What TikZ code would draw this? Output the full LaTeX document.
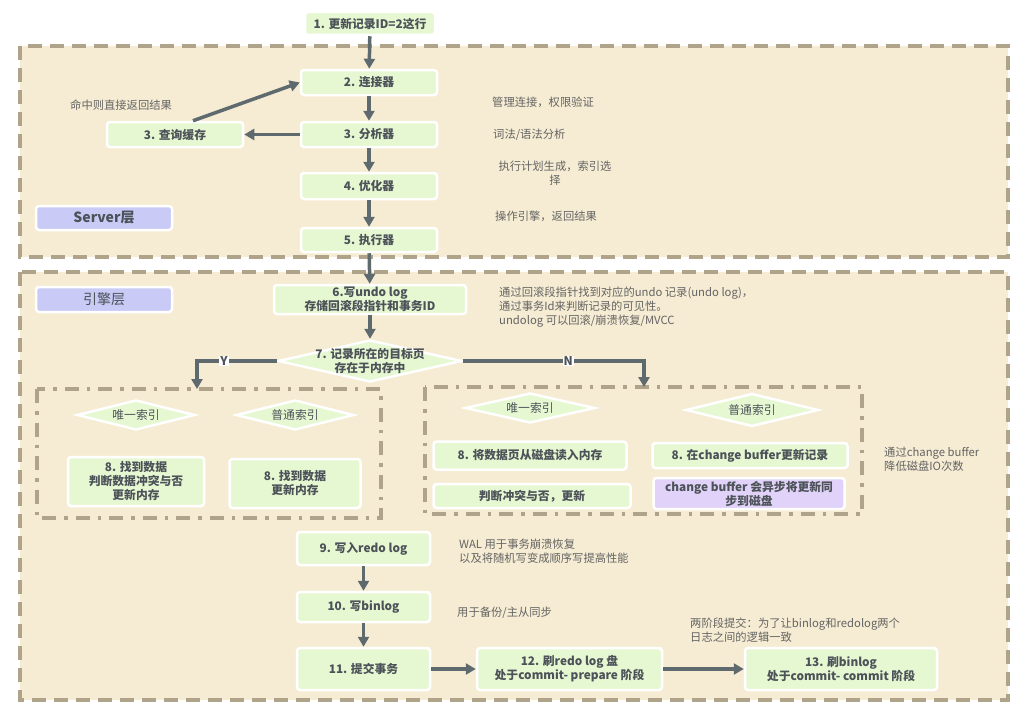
\documentclass[tikz,border=0pt]{standalone}
\usepackage{fontspec}
\setmainfont{Noto Sans CJK SC}
\usetikzlibrary{arrows.meta, shapes.geometric}
\definecolor{layerfill}{HTML}{F6ECD3}
\definecolor{layerline}{HTML}{AFA389}
\definecolor{boxgreen}{HTML}{E6F8D2}
\definecolor{boxpurple}{HTML}{E0D2F8}
\definecolor{tagblue}{HTML}{C9CAF5}
\definecolor{boxtext}{HTML}{4C5258}
\definecolor{notegray}{HTML}{646464}
\definecolor{arrowgray}{HTML}{5E6A6E}
\tikzset{
  layer/.style={
    draw=layerline,
    fill=layerfill,
    line width=4pt,
    dash pattern=on 14pt off 8pt
  },
  group/.style={
    draw=layerline,
    line width=3.5pt,
    dash pattern=on 14pt off 8pt on 3.5pt off 8pt
  },
  stepbox/.style={
    rectangle,
    rounded corners=3pt,
    draw=white,
    line width=2.5pt,
    fill=boxgreen,
    text=boxtext,
    font=\fontsize{11.8}{14}\selectfont\bfseries,
    align=center,
    inner sep=1pt
  },
  asyncbox/.style={
    stepbox,
    fill=boxpurple
  },
  tag/.style={
    stepbox,
    fill=tagblue,
    font=\fontsize{14}{16}\selectfont\bfseries
  },
  decision text/.style={
    text=boxtext,
    font=\fontsize{11.8}{14}\selectfont\bfseries,
    align=center,
    inner sep=0pt
  },
  index text/.style={
    decision text,
    font=\fontsize{11.8}{14}\selectfont
  },
  decision/.style={
    diamond,
    draw=white,
    line width=2.5pt,
    fill=boxgreen,
    inner sep=0pt,
    label={[decision text]center:#1}
  },
  index/.style={
    diamond,
    draw=white,
    line width=2.5pt,
    fill=boxgreen,
    inner sep=0pt,
    label={[index text]center:#1}
  },
  note/.style={
    text=notegray,
    font=\fontsize{11.3}{14}\selectfont,
    align=left,
    anchor=west,
    inner sep=0pt
  },
  flow/.style={
    -{Triangle[length=10pt,width=11pt]},
    line width=3.5pt,
    draw=arrowgray
  },
  branch/.style={
    fill=white,
    text=boxtext,
    font=\fontsize{12}{13}\selectfont\bfseries,
    inner sep=1pt
  }
}
\begin{document}
\begin{tikzpicture}[x=1pt, y=-1pt]
  \useasboundingbox (0,0) rectangle (1035,717);

  % 两个层
  \path[layer] (20,46) rectangle (1008,257);
  \path[layer] (20,272) rectangle (1008,700);
  \draw[group] (37,389) rectangle (381,518);
  \draw[group] (425,387) rectangle (862,514);

  % Server层
  \node[stepbox, minimum width=130pt, minimum height=23pt] (update) at (370,23.5) {1. 更新记录ID=2这行};
  \node[stepbox, minimum width=136pt, minimum height=25pt] (connector) at (369,82.5) {2. 连接器};
  \node[stepbox, minimum width=136pt, minimum height=25pt] (parser) at (369,134.5) {3. 分析器};
  \node[stepbox, minimum width=136pt, minimum height=25pt] (cache) at (175,134.5) {3. 查询缓存};
  \node[stepbox, minimum width=136pt, minimum height=26pt] (optimizer) at (369,186) {4. 优化器};
  \node[stepbox, minimum width=136pt, minimum height=24pt] (executor) at (369,240) {5. 执行器};
  \node[tag, minimum width=136pt, minimum height=24pt] (servertag) at (104,218) {Server层};

  \node[note] (hitnote) at (70,105) {命中则直接返回结果};
  \node[note] (connnote) at (492,102) {管理连接，权限验证};
  \node[note] (parsenote) at (493,135) {词法/语法分析};
  \node[note, anchor=center, align=center] (optnote) at (555,173) {执行计划生成，索引选\\择};
  \node[note] (execnote) at (495,216) {操作引擎，返回结果};

  % 引擎层
  \node[tag, minimum width=136pt, minimum height=25pt, font=\fontsize{14}{16}\selectfont] (enginetag) at (104,299.5) {引擎层};
  \node[stepbox, minimum width=192pt, minimum height=29pt] (undo) at (370,299.5) {6.写undo log\\存储回滚段指针和事务ID};
  \node[note] (undonote) at (499,307) {通过回滚段指针找到对应的undo 记录(undo log)，\\通过事务Id来判断记录的可见性。\\undolog 可以回滚/崩溃恢复/MVCC};
  \node[decision={7. 记录所在的目标页\\存在于内存中}, minimum width=184pt, minimum height=42pt] (page) at (370,361) {};
  \coordinate (hitpage) at (197,389);
  \coordinate (misspage) at (644,387);

  % 页在内存中
  \node[index=唯一索引, minimum width=118pt, minimum height=30pt] (inuniq) at (136,415) {};
  \node[index=普通索引, minimum width=118pt, minimum height=30pt] (innormal) at (295,415) {};
  \node[stepbox, minimum width=136pt, minimum height=49pt] (inuniqbox) at (136,481.5) {8. 找到数据\\判断数据冲突与否\\更新内存};
  \node[stepbox, minimum width=131pt, minimum height=49pt] (innormalbox) at (295,483.5) {8. 找到数据\\更新内存};

  % 页不在内存中
  \node[index=唯一索引, minimum width=130pt, minimum height=30pt] (outuniq) at (530,408) {};
  \node[index=普通索引, minimum width=133pt, minimum height=33pt] (outnormal) at (752,410) {};
  \node[stepbox, minimum width=193pt, minimum height=28pt] (readpage) at (530,455.5) {8. 将数据页从磁盘读入内存};
  \node[stepbox, minimum width=197pt, minimum height=24pt] (checkpage) at (532,496) {判断冲突与否，更新};
  \node[stepbox, minimum width=195pt, minimum height=25pt] (cbupdate) at (750,455.5) {8. 在change buffer更新记录};
  \node[asyncbox, minimum width=191pt, minimum height=31pt] (cbmerge) at (749,493.5) {change buffer 会异步将更新同\\步到磁盘};
  \node[note] (cbnote) at (884,459) {通过change buffer\\降低磁盘IO次数};

  % 日志与提交
  \node[stepbox, minimum width=133pt, minimum height=33pt] (redo) at (363.5,548.5) {9. 写入redo log};
  \node[stepbox, minimum width=133pt, minimum height=30pt] (binlog) at (363.5,607) {10. 写binlog};
  \node[stepbox, minimum width=133pt, minimum height=42pt] (commit) at (363.5,669) {11. 提交事务};
  \node[stepbox, minimum width=185pt, minimum height=42pt] (prepare) at (569.5,669) {12. 刷redo log 盘\\处于commit- prepare 阶段};
  \node[stepbox, minimum width=192pt, minimum height=42pt] (flushbin) at (841,669) {13. 刷binlog\\处于commit- commit 阶段};
  \node[note] (walnote) at (459,551) {WAL 用于事务崩溃恢复\\以及将随机写变成顺序写提高性能};
  \node[note] (binnote) at (457,613) {用于备份/主从同步};
  \node[note] (twopcnote) at (690,630.5) {两阶段提交：为了让binlog和redolog两个\\日志之间的逻辑一致};

  % 连线
  \draw[flow] (update) -- (connector);
  \draw[flow] (connector) -- (parser);
  \draw[flow] (parser) -- (optimizer);
  \draw[flow] (optimizer) -- (executor);
  \draw[flow] (parser) -- (cache);
  \draw[flow] ([xshift=18pt]cache.north) -- (connector.west);
  \draw[flow] (executor) -- (undo);
  \draw[flow] (undo) -- (page);
  \draw[flow] (page.west) -| (hitpage) node[branch, pos=0.33] {Y};
  \draw[flow] (page.east) -| (misspage) node[branch, pos=0.29] {N};
  \draw[flow] (redo) -- (binlog);
  \draw[flow] (binlog) -- (commit);
  \draw[flow] (commit) -- (prepare);
  \draw[flow] (prepare) -- (flushbin);
\end{tikzpicture}
\end{document}
